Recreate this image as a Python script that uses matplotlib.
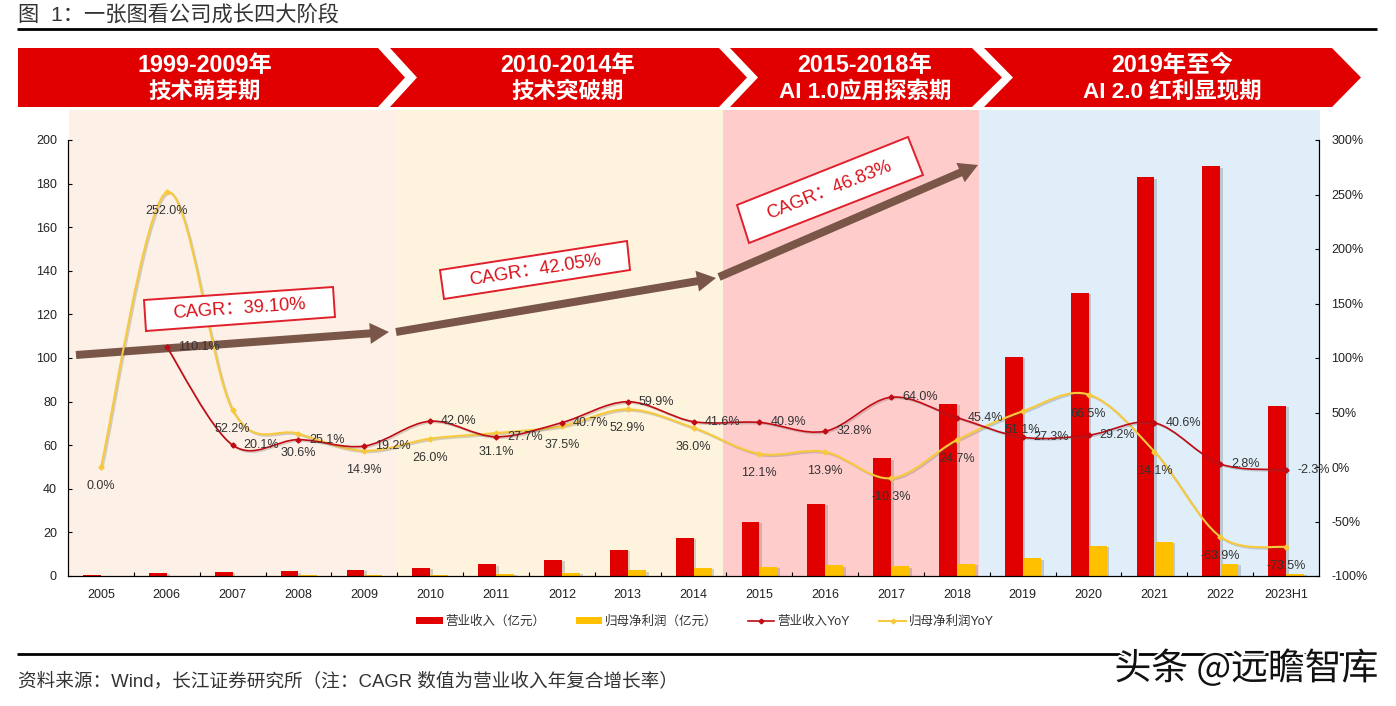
import matplotlib
matplotlib.use('Agg')
import matplotlib.pyplot as plt
import matplotlib.patheffects as pe
from matplotlib.patches import FancyArrow, PathPatch, Polygon, Rectangle
from matplotlib.path import Path
from matplotlib.lines import Line2D

plt.rcParams['font.family'] = ['Liberation Sans', 'Noto Sans CJK SC', 'DejaVu Sans']

years = ['2005', '2006', '2007', '2008', '2009', '2010', '2011', '2012', '2013', '2014',
         '2015', '2016', '2017', '2018', '2019', '2020', '2021', '2022', '2023H1']
revenue = [0.3, 1.4, 1.8, 2.1, 2.8, 3.8, 5.3, 7.4, 12.0, 17.4,
           24.8, 33.0, 54.0, 78.9, 100.5, 129.8, 182.8, 187.9, 78.0]
profit = [0.05, 0.1, 0.2, 0.3, 0.4, 0.6, 0.9, 1.5, 2.6, 3.7,
          4.1, 4.9, 4.4, 5.7, 8.1, 13.9, 15.6, 5.7, 1.0]
revenue_yoy = [None, 110.1, 20.1, 25.1, 19.2, 42.0, 27.7, 40.7, 59.9, 41.6,
               40.9, 32.8, 64.0, 45.4, 27.3, 29.2, 40.6, 2.8, -2.3]
profit_yoy = [0.0, 252.0, 52.2, 30.6, 14.9, 26.0, 31.1, 37.5, 52.9, 36.0,
              12.1, 13.9, -10.3, 24.7, 51.1, 66.5, 14.1, -63.9, -73.5]

left_ticks = [0, 20, 40, 60, 80, 100, 120, 140, 160, 180, 200]
right_ticks = [-100, -50, 0, 50, 100, 150, 200, 250, 300]

phase_titles = ['1999-2009年', '2010-2014年', '2015-2018年', '2019年至今']
phase_names = ['技术萌芽期', '技术突破期', 'AI 1.0应用探索期', 'AI 2.0 红利显现期']
phase_colors = ['#fdf0e6', '#fef3dd', '#ffcccc', '#dfeef9']
cagr_labels = ['CAGR：39.10%', 'CAGR：42.05%', 'CAGR：46.83%']

RED = '#e00000'
YELLOW = '#ffc000'
LINE_RED = '#c00a14'
LINE_YELLOW = '#f7c93c'
BROWN = '#7a5648'
W, H = 1396, 706


def smooth_path(xs, ys):
    # excel style smoothed line, one bezier per segment
    verts = [(xs[0], ys[0])]
    codes = [Path.MOVETO]
    n = len(xs)
    for i in range(n - 1):
        a = max(i - 1, 0)
        b = min(i + 2, n - 1)
        verts.append((xs[i] + (xs[i + 1] - xs[a]) / 6, ys[i] + (ys[i + 1] - ys[a]) / 6))
        verts.append((xs[i + 1] - (xs[b] - xs[i]) / 6, ys[i + 1] - (ys[b] - ys[i]) / 6))
        verts.append((xs[i + 1], ys[i + 1]))
        codes += [Path.CURVE4] * 3
    return Path(verts, codes)


def draw_yoy(axis, values, color, lw):
    xs = [i for i, v in enumerate(values) if v is not None]
    ys = [v for v in values if v is not None]
    patch = PathPatch(smooth_path(xs, ys), fill=False, edgecolor=color, lw=lw)
    patch.set_path_effects([pe.SimpleLineShadow(offset=(1, -1), alpha=0.25, shadow_color='#555555'), pe.Normal()])
    axis.add_patch(patch)
    axis.plot(xs, ys, ls='none', marker='D', ms=2.6, color=color)
    return xs, ys


fig = plt.figure(figsize=(W / 100, H / 100), dpi=100)

# page decoration works in pixels of the picture
bg = fig.add_axes([0, 0, 1, 1], zorder=0)
bg.set_xlim(0, W)
bg.set_ylim(H, 0)
bg.axis('off')

bg.text(18, 15.5, '图  1：一张图看公司成长四大阶段', fontsize=15.3, color='#333333', va='center', ha='left')
bg.plot([17, 1377], [29, 29], color='black', lw=2, solid_capstyle='butt')
bg.plot([17, 1377], [654, 654], color='black', lw=2, solid_capstyle='butt')
bg.text(18, 681, '资料来源：Wind，长江证券研究所（注：CAGR 数值为营业收入年复合增长率）',
        fontsize=13.4, color='#333333', va='center', ha='left')

# ribbon on top: start, flat end, tip, notch
ribbon_x = [(18, 378, 405, None), (390, 719, 747, 417), (730, 972, 1002, 758), (984, 1332, 1361, 1013)]
text_x = [205, 568, 865, 1172]
top, mid, bottom = 48, 77.5, 107
for (x0, x1, tip, notch), tx, t1, t2 in zip(ribbon_x, text_x, phase_titles, phase_names):
    pts = [(x0, top), (x1, top), (tip, mid), (x1, bottom), (x0, bottom)]
    if notch:
        pts.append((notch, mid))
    bg.add_patch(Polygon(pts, closed=True, facecolor=RED, edgecolor='none'))
    bg.text(tx, 65, t1, color='white', fontsize=16.8, fontweight='bold', ha='center', va='center')
    bg.text(tx, 92, t2, color='white', fontsize=16.2, fontweight='bold', ha='center', va='center')

# phase background
span_x = [69, 397, 723, 979, 1320]
for i, c in enumerate(phase_colors):
    bg.add_patch(Rectangle((span_x[i], 110), span_x[i + 1] - span_x[i], 466, facecolor=c, edgecolor='none'))

# cagr arrows
for x0, y0, x1, y1 in [(76, 355, 389, 332), (396, 332, 716, 278), (719, 277, 978, 165)]:
    bg.add_patch(FancyArrow(x0, y0, x1 - x0, y1 - y0, width=8, head_width=21, head_length=19,
                            length_includes_head=True, facecolor=BROWN, edgecolor='none'))

# chart
ax = fig.add_axes([68 / W, 1 - 576 / H, (1319 - 68) / W, (576 - 140) / H], zorder=1)
ax.patch.set_visible(False)
x = list(range(len(years)))
bar_w = 0.27
shadow = [pe.SimplePatchShadow(offset=(2, -1), alpha=0.22, shadow_rgbFace='#444444'), pe.Normal()]
bars1 = ax.bar([i - bar_w / 2 for i in x], revenue, bar_w, color=RED)
bars2 = ax.bar([i + bar_w / 2 + 0.005 for i in x], profit, bar_w, color=YELLOW)
for b in list(bars1) + list(bars2):
    b.set_path_effects(shadow)
ax.set_xlim(-0.5, len(years) - 0.5)
ax.set_ylim(0, 200)
ax.set_yticks(left_ticks)
ax.set_xticks([i + 0.5 for i in x[:-1]])
ax.set_xticklabels([])
ax.set_xticks(x, minor=True)
ax.set_xticklabels(years, minor=True)
ax.tick_params(axis='x', which='major', direction='in', length=3, width=0.8)
ax.tick_params(axis='x', which='minor', length=0, pad=9, labelsize=9, labelcolor='#222222')
ax.tick_params(axis='y', direction='in', length=3, width=0.8, pad=8, labelsize=9, labelcolor='#222222')
ax.spines['top'].set_visible(False)

ax2 = ax.twinx()
ax2.set_zorder(2)
ax2.patch.set_visible(False)
ax2.set_ylim(-100, 300)
ax2.set_yticks(right_ticks)
ax2.set_yticklabels([f'{v}%' for v in right_ticks])
ax2.tick_params(axis='y', direction='in', length=3, width=0.8, pad=9, labelsize=9, labelcolor='#222222')
ax2.spines['top'].set_visible(False)

px, py = draw_yoy(ax2, profit_yoy, LINE_YELLOW, 1.5)
rx, ry = draw_yoy(ax2, revenue_yoy, LINE_RED, 1.2)

for xi, v in zip(px, py):
    ax2.annotate(f'{v:.1f}%', (xi, v), xytext=(0, -19), textcoords='offset pixels',
                 ha='center', va='center', fontsize=9, color='#333333')
for xi, v in zip(rx, ry):
    ax2.annotate(f'{v:.1f}%', (xi, v), xytext=(11, 0), textcoords='offset pixels',
                 ha='left', va='center', fontsize=9, color='#333333')

handles = [
    Rectangle((0, 0), 1, 1, facecolor=RED, edgecolor='none'),
    Rectangle((0, 0), 1, 1, facecolor=YELLOW, edgecolor='none'),
    Line2D([], [], color=LINE_RED, lw=1.2, marker='D', ms=2.4),
    Line2D([], [], color=LINE_YELLOW, lw=1.5, marker='D', ms=2.4),
]
leg_labels = ['营业收入（亿元）', '归母净利润（亿元）', '营业收入YoY', '归母净利润YoY']
fig.legend(handles, leg_labels, loc='center', bbox_to_anchor=(705 / W, 1 - 621.5 / H), ncol=4, frameon=False,
           fontsize=9, labelcolor='#333333', handlelength=2.1, handleheight=0.55, handletextpad=0.25,
           columnspacing=2.4)

# things that sit over the chart
top_ax = fig.add_axes([0, 0, 1, 1], zorder=5)
top_ax.set_xlim(0, W)
top_ax.set_ylim(H, 0)
top_ax.axis('off')

boxes = [
    [(144, 300), (333, 287), (335, 317), (146, 331)],
    [(440, 270), (627, 241), (630, 270), (444, 299)],
    [(737, 205), (908, 137), (923, 175), (749, 243)],
]
angles = [3.9, 8.8, 21.7]
for pts, ang, label in zip(boxes, angles, cagr_labels):
    top_ax.add_patch(Polygon(pts, closed=True, facecolor='white', edgecolor='#e0202a', lw=1.4))
    cx = sum(p[0] for p in pts) / 4
    cy = sum(p[1] for p in pts) / 4
    top_ax.text(cx, cy, label, color='#d8141c', fontsize=13.2, rotation=ang, rotation_mode='anchor',
                ha='center', va='center')

top_ax.text(1378, 669, '头条 @远瞻智库', fontsize=26.5, color='#111111', ha='right', va='center',
            family=['Noto Sans CJK SC', 'DejaVu Sans'],
            path_effects=[pe.withStroke(linewidth=3, foreground='white')])

fig.savefig('out.png', dpi=100)
